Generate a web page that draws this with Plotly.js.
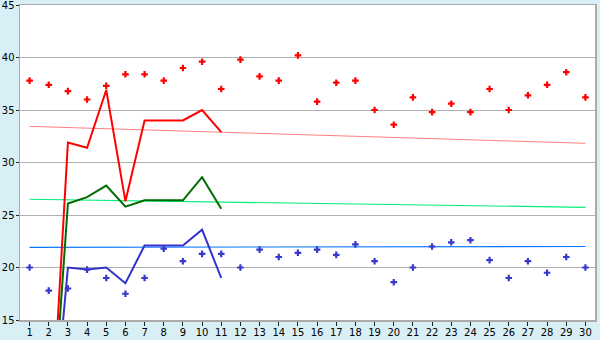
<!DOCTYPE html>
<html>
<head>
<meta charset="utf-8">
<script src="https://cdn.plot.ly/plotly-3.0.1.min.js"></script>
<style>html,body{margin:0;padding:0;background:#d9eff6;}#chart{width:600px;height:340px;}</style>
</head>
<body>
<div id="chart"></div>
<script>
// Day numbers
const days = [1,2,3,4,5,6,7,8,9,10,11,12,13,14,15,16,17,18,19,20,21,22,23,24,25,26,27,28,29,30];
// Red point series
const redPoints = [37.8,37.4,36.8,36.0,37.3,38.4,38.4,37.8,39.0,39.6,37.0,39.8,38.2,37.8,40.2,35.8,37.6,37.8,35.0,33.6,36.2,34.8,35.6,34.8,37.0,35.0,36.4,37.4,38.6,36.2];
// Blue point series
const bluePoints = [20.0,17.8,18.0,19.8,19.0,17.5,19.0,21.8,20.6,21.3,21.3,20.0,21.7,21.0,21.4,21.7,21.2,22.2,20.6,18.6,20.0,22.0,22.4,22.6,20.7,19.0,20.6,19.5,21.0,20.0];
// Line series (days 1..11)
const lineDays = [1,2,3,4,5,6,7,8,9,10,11];
const redLine   = [0,0,31.9,31.4,36.9,26.3,34.0,34.0,34.0,35.0,32.9];
const greenLine = [0,0,26.1,26.7,27.8,25.8,26.4,26.4,26.4,28.6,25.6];
const blueLine  = [0,0,20.0,19.8,20.0,18.5,22.1,22.1,22.1,23.6,19.0];
// Trend lines (start and end)
const trendDays = [1,30];
const redTrend   = [33.44,31.83];
const greenTrend = [26.5,25.73];
const blueTrend  = [21.92,22.0];
const yTicks = [15,20,25,30,35,40,45];

const traces = [
  {x:trendDays,y:redTrend,mode:'lines',line:{color:'#ff8080',width:1}},
  {x:trendDays,y:greenTrend,mode:'lines',line:{color:'#00ee77',width:1.2}},
  {x:trendDays,y:blueTrend,mode:'lines',line:{color:'#0a78ff',width:1.2}},
  {x:lineDays,y:redLine,mode:'lines',line:{color:'#ff0000',width:2}},
  {x:lineDays,y:greenLine,mode:'lines',line:{color:'#006b00',width:2}},
  {x:lineDays,y:blueLine,mode:'lines',line:{color:'#3333cc',width:2}},
  {x:days,y:redPoints,mode:'markers',marker:{symbol:'cross',size:5.5,color:'#ff0000',line:{width:0}}},
  {x:days,y:bluePoints,mode:'markers',marker:{symbol:'cross',size:5.5,color:'#3838cc',line:{width:0}}}
];

const tf = {family:'DejaVu Sans, Verdana, sans-serif',size:10,color:'#000'};
const layout = {
  width:600,height:340,
  margin:{l:20,r:5,t:5,b:20,pad:0},
  paper_bgcolor:'#d9eff6',
  plot_bgcolor:'#ffffff',
  showlegend:false,
  font:tf,
  xaxis:{range:[0.5,30.5],tickvals:days,ticktext:days.map(String),showgrid:false,zeroline:false,
    showline:true,linecolor:'#aaaaaa',linewidth:1.5,mirror:true,
    ticks:'outside',ticklen:4,tickcolor:'#222',tickwidth:1,ticklabelstandoff:-2,
    ticklabeloverflow:'allow',tickfont:tf},
  yaxis:{range:[15,45],tickvals:yTicks,showgrid:true,gridcolor:'#b0b0b0',gridwidth:1,zeroline:false,
    showline:true,linecolor:'#aaaaaa',linewidth:1.5,mirror:true,
    ticks:'outside',ticklen:3,tickcolor:'#222',tickwidth:1,ticklabelstandoff:-1,
    ticklabeloverflow:'allow',tickfont:tf}
};
Plotly.newPlot('chart',traces,layout,{displayModeBar:false,staticPlot:true});
</script>
</body>
</html>
